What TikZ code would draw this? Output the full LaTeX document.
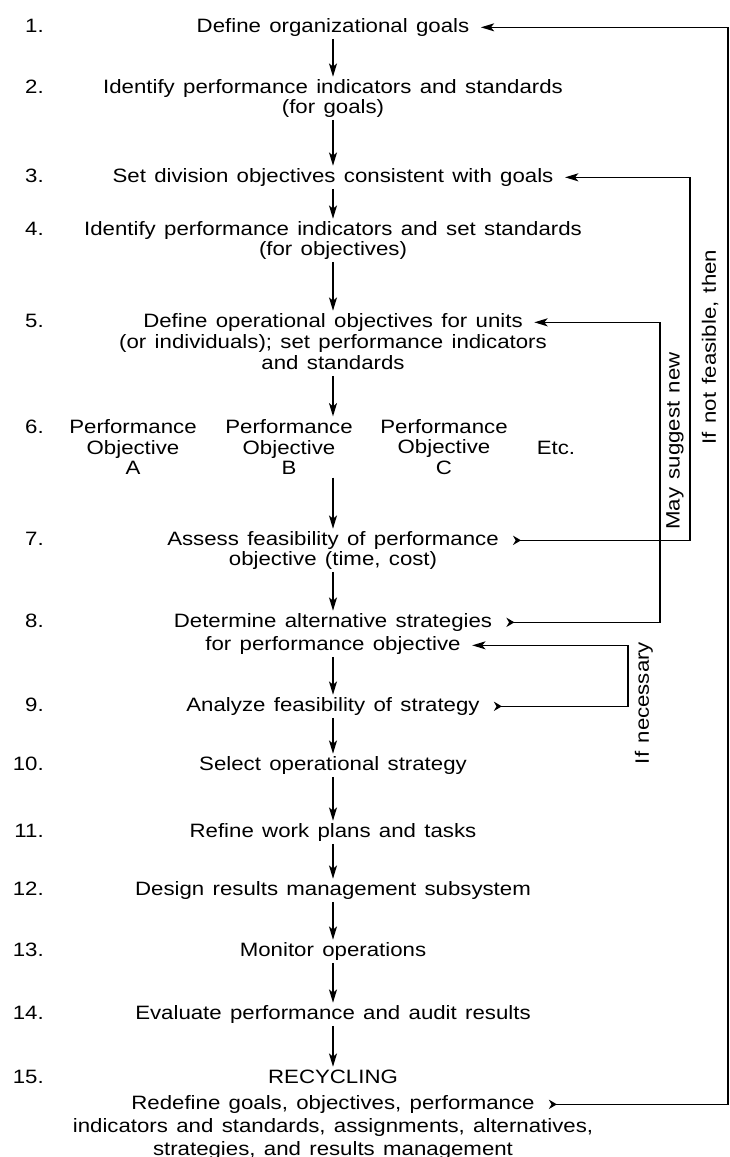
\documentclass[tikz,border=0pt]{standalone}
\usepackage{fontspec}
\setmainfont{Liberation Sans}[FakeStretch=1.15,WordSpace=1.35]
\usepackage{tikz}
\usetikzlibrary{arrows.meta}

\tikzset{
  steptext/.style={anchor=base,inner sep=1.5pt,text height=10.5pt,text depth=3.5pt},
  stepnum/.style={anchor=base east,inner sep=0pt},
  flow/.style={-{Stealth[length=10pt,width=6pt,inset=2.5pt]},line width=1.1pt},
  loopback/.style={{Stealth[reversed,length=6pt,width=7pt,inset=2pt]}-{Stealth[length=10pt,width=6pt,inset=2.5pt]},
    line width=1.1pt,shorten <=9pt,shorten >=7pt},
  sidelabel/.style={rotate=90,inner sep=0pt}
}

\begin{document}
\begin{tikzpicture}[x=0.75pt,y=-0.75pt,font=\fontsize{14.5}{15.5}\selectfont]
  \useasboundingbox (0,0) rectangle (730,1157);
  % step numbers
  \foreach \n/\y in {1/32,2/93,3/182,4/235,5/327,6/433,7/545,8/627,9/711,10/770,11/837,12/895,13/956,14/1019,15/1083}
    \node[stepnum] (n\n) at (44,\y) {\n.};
  % steps
  \node[steptext] (s1) at (333,32) {Define organizational goals};
  \node[steptext] (s2a) at (333,93) {Identify performance indicators and standards};
  \node[steptext] (s2b) at (333,113) {(for goals)};
  \node[steptext] (s3) at (333,182) {Set division objectives consistent with goals};
  \node[steptext] (s4a) at (333,235) {Identify performance indicators and set standards};
  \node[steptext] (s4b) at (333,255) {(for objectives)};
  \node[steptext] (s5a) at (333,327) {Define operational objectives for units};
  \node[steptext] (s5b) at (333,348) {(or individuals); set performance indicators};
  \node[steptext] (s5c) at (333,369) {and standards};
  % objectives row
  \node[align=center,inner sep=2pt] (p6a) at (133,447) {Performance\\Objective\\A};
  \node[align=center,inner sep=2pt] (p6b) at (289,447) {Performance\\Objective\\B};
  \node[align=center,inner sep=2pt] (p6c) at (444,447) {Performance\\Objective\\C};
  \node[steptext] (p6etc) at (556,454) {Etc.};
  \node[steptext] (s7a) at (333,545) {Assess feasibility of performance};
  \node[steptext] (s7b) at (333,565) {objective (time, cost)};
  \node[steptext] (s8a) at (333,627) {Determine alternative strategies};
  \node[steptext] (s8b) at (333,650) {for performance objective};
  \node[steptext] (s9) at (333,711) {Analyze feasibility of strategy};
  \node[steptext] (s10) at (333,770) {Select operational strategy};
  \node[steptext] (s11) at (333,837) {Refine work plans and tasks};
  \node[steptext] (s12) at (333,895) {Design results management subsystem};
  \node[steptext] (s13) at (333,956) {Monitor operations};
  \node[steptext] (s14) at (333,1019) {Evaluate performance and audit results};
  \node[steptext] (s15a) at (333,1083) {RECYCLING};
  \node[steptext] (s15b) at (333,1109) {Redefine goals, objectives, performance};
  \node[steptext] (s15c) at (333,1132) {indicators and standards, assignments, alternatives,};
  \node[steptext] (s15d) at (333,1155) {strategies, and results management};
  % main flow
  \foreach \a/\b in {s1/s2a,s2b/s3,s3/s4a,s4b/s5a,s7b/s8a,s8b/s9,s9/s10,s10/s11,s11/s12,s12/s13,s13/s14,s14/s15a}
    \draw[flow] (\a) -- (\b);
  \draw[flow] (s5c) -- (s5c |- p6b.north);
  \draw[flow] (p6b.south -| s7a) -- (s7a);
  % feedback loops
  \coordinate (colOut) at (728,0);
  \coordinate (colNF) at (690,0);
  \coordinate (colMS) at (660,0);
  \coordinate (colIN) at (628,0);
  \draw[loopback] (s15b.east) -| (colOut |- s1.east) -- (s1.east);
  \draw[loopback] (s7a.east) -| (colNF |- s3.east) -- (s3.east);
  \draw[loopback] (s8a.east) -| (colMS |- s5a.east) -- (s5a.east);
  \draw[loopback] (s9.east) -| (colIN |- s8b.east) -- (s8b.east);
  \node[sidelabel] (lNF) at (710,347) {If not feasible, then};
  \node[sidelabel] (lMS) at (675,441) {May suggest new};
  \node[sidelabel] (lIN) at (644,703) {If necessary};
\end{tikzpicture}
\end{document}
